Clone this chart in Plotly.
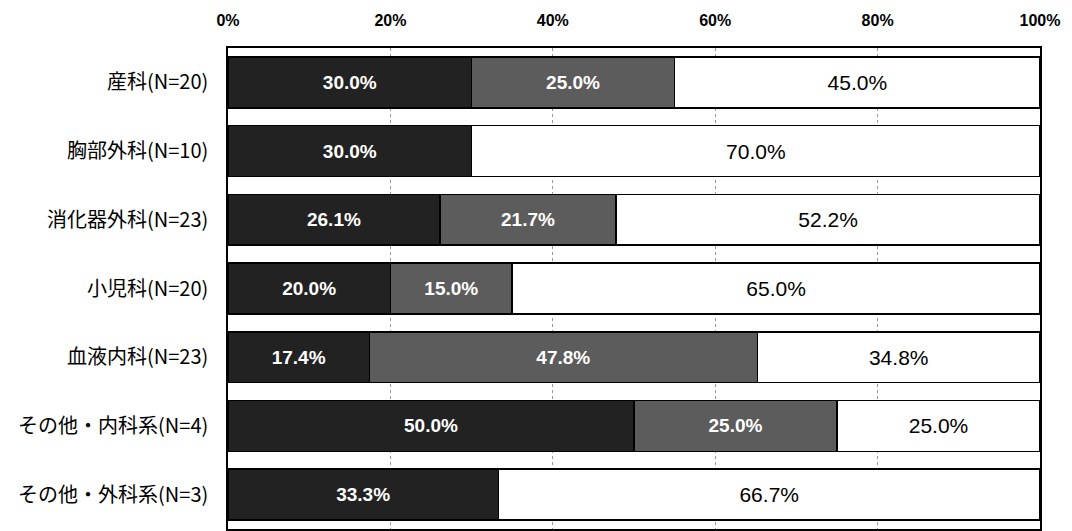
import plotly.graph_objects as go

categories = ["産科(N=20)", "胸部外科(N=10)", "消化器外科(N=23)", "小児科(N=20)",
              "血液内科(N=23)", "その他・内科系(N=4)", "その他・外科系(N=3)"]
series_dark = [30.0, 30.0, 26.1, 20.0, 17.4, 50.0, 33.3]
series_gray = [25.0, 0.0, 21.7, 15.0, 47.8, 25.0, 0.0]
series_white = [45.0, 70.0, 52.2, 65.0, 34.8, 25.0, 66.7]
tick_vals = [0, 20, 40, 60, 80, 100]
tick_text = ["0%", "20%", "40%", "60%", "80%", "100%"]

def vals(v):
    return [x if x > 0 else None for x in v]

def texts(v):
    return [f"{x:.1f}%" if x > 0 else "" for x in v]

fig = go.Figure()
styles = [
    (series_dark, "#222222", "white", "bold", 19),
    (series_gray, "#5c5c5c", "white", "bold", 19),
    (series_white, "#ffffff", "black", "normal", 21),
]
for data, color, tcolor, weight, fsize in styles:
    fig.add_trace(go.Bar(
        y=categories, x=vals(data), orientation="h",
        marker=dict(color=color, line=dict(color="black", width=1.5)),
        text=texts(data), textposition="inside", insidetextanchor="middle",
        textfont=dict(family="Liberation Sans, Arial", size=fsize, color=tcolor, weight=weight),
        constraintext="none", hoverinfo="skip", showlegend=False,
    ))

fig.update_layout(
    barmode="stack", bargap=0.26,
    width=1064, height=523,
    margin=dict(l=220, r=32, t=40, b=2),
    paper_bgcolor="white", plot_bgcolor="white",
)
fig.update_xaxes(
    side="top", range=[0, 100], tickvals=tick_vals, ticktext=tick_text,
    tickfont=dict(family="Liberation Sans, Arial", size=16, color="black", weight="bold"),
    ticklabelstandoff=14, automargin=False,
    showgrid=True, gridcolor="#999999", griddash="dot", gridwidth=1,
    showline=True, linecolor="black", linewidth=1.5, mirror=True,
    zeroline=False, ticks="",
)
fig.update_yaxes(
    autorange="reversed", automargin=False,
    tickfont=dict(family="Noto Sans CJK JP", size=20, color="black"),
    ticklabelstandoff=14,
    showline=True, linecolor="black", linewidth=1.5, mirror=True,
    showgrid=False, ticks="",
)
fig.write_html("out.html")
